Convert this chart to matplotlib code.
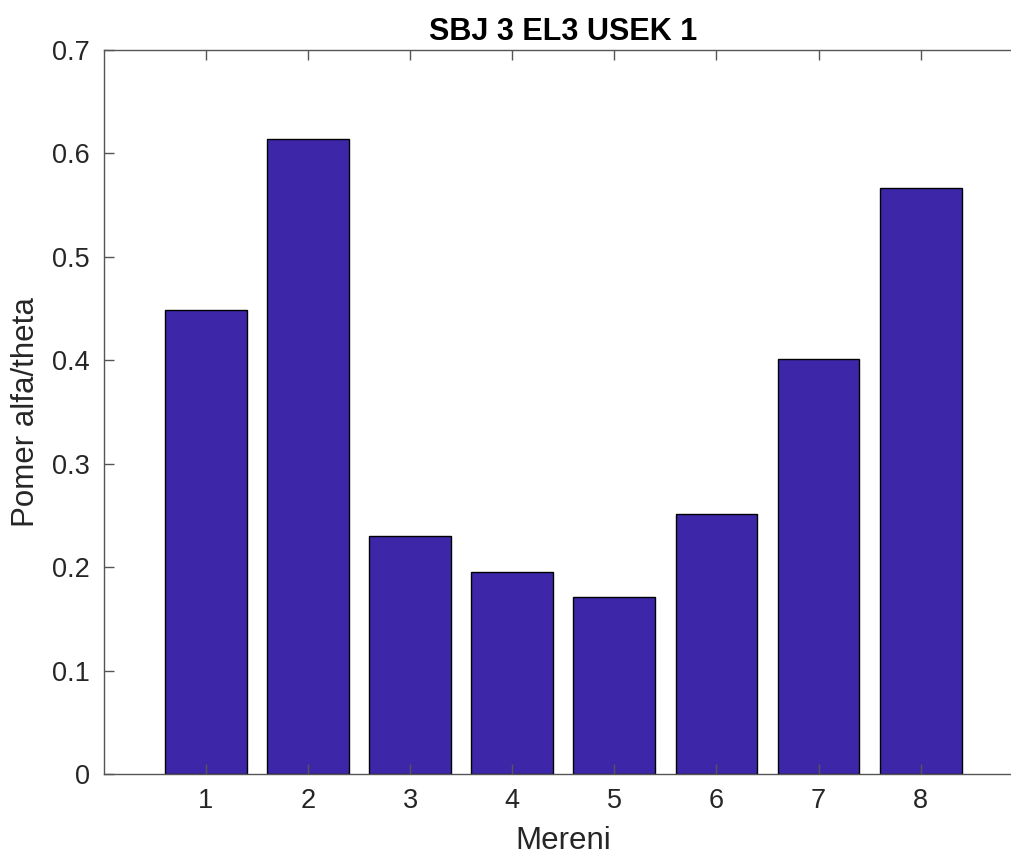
import matplotlib
matplotlib.use("Agg")
import matplotlib.pyplot as plt

# Measurement index and alpha/theta power ratio
mereni = [1, 2, 3, 4, 5, 6, 7, 8]
pomer = [0.449, 0.614, 0.230, 0.195, 0.171, 0.251, 0.401, 0.567]
yticks = [0, 0.1, 0.2, 0.3, 0.4, 0.5, 0.6, 0.7]
ytick_labels = ["0", "0.1", "0.2", "0.3", "0.4", "0.5", "0.6", "0.7"]

plt.rcParams["font.family"] = ["Liberation Sans", "DejaVu Sans"]
axis_color = "#262626"
spine_color = "#555555"

fig = plt.figure(figsize=(10.12, 8.58), dpi=100)
ax = fig.add_axes([0.1024, 0.0979, 0.9084, 0.8438])

ax.bar(mereni, pomer, width=0.8, color="#3E26A8", edgecolor="black", linewidth=1.0)

ax.set_xlim(0, 9)
ax.set_ylim(0, 0.7)
ax.set_xticks(mereni)
ax.set_yticks(yticks)
ax.set_yticklabels(ytick_labels)

for side in ["left", "bottom", "top"]:
    ax.spines[side].set_color(spine_color)
    ax.spines[side].set_linewidth(1.0)
# the right edge of the box lies past the figure border
ax.spines["right"].set_visible(False)

ax.tick_params(direction="in", length=7, width=1.0, color=spine_color,
               labelcolor=axis_color, labelsize=19.5, top=True, right=False,
               pad=10)

ax.set_xlabel("Mereni", fontsize=22.5, color=axis_color, labelpad=9)
ax.set_ylabel("Pomer alfa/theta", fontsize=22.5, color=axis_color, labelpad=8)
ax.set_title("SBJ 3 EL3 USEK 1", fontsize=22, fontweight="bold", color="black", pad=7)

fig.savefig("out.png", dpi=100)
